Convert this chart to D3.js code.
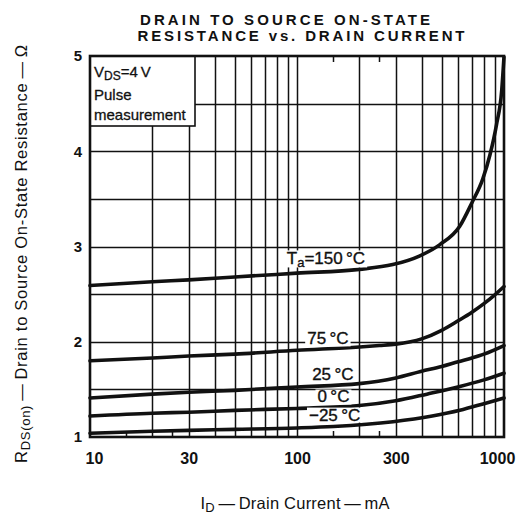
<!DOCTYPE html>
<html><head><meta charset="utf-8">
<script src="https://cdn.jsdelivr.net/npm/d3@7"></script>
<style>
body{margin:0;background:#fff}
svg{display:block}
text{font-family:"Liberation Sans",Arial,Helvetica,sans-serif;fill:#111}
</style>
</head><body>
<svg id="c" width="523" height="518"></svg>
<script>
// ---- data ----
const xTickValues = [10, 30, 100, 300, 1000];
const yTickValues = [1, 2, 3, 4, 5];
const xGridValues = [20, 30, 40, 50, 60, 70, 80, 90, 100, 200, 300, 400, 500, 600, 700, 800, 900];
const yGridValues = [1.5, 2, 2.5, 3, 3.5, 4, 4.5];
const xMinorTicks = [15, 25, 150, 250];

const seriesLabels = ["150", "75", "25", "0", "−25"];

const id150 = [10, 20, 30, 50, 100, 200, 290, 390, 490, 610, 700, 790, 855, 920, 975, 1000];
const r150  = [2.59, 2.63, 2.65, 2.68, 2.72, 2.76, 2.81, 2.90, 3.02, 3.21, 3.46, 3.71, 3.96, 4.28, 4.64, 4.99];

const id75 = [10, 20, 30, 50, 100, 200, 250, 300, 400, 500, 600, 700, 800, 900, 1000];
const r75  = [1.80, 1.83, 1.85, 1.87, 1.91, 1.945, 1.96, 1.975, 2.03, 2.12, 2.22, 2.31, 2.40, 2.49, 2.58];

const id25 = [10, 20, 30, 50, 100, 200, 300, 400, 500, 600, 700, 800, 1000];
const r25  = [1.41, 1.45, 1.47, 1.49, 1.525, 1.56, 1.62, 1.69, 1.74, 1.79, 1.83, 1.87, 1.96];

const id0 = [10, 20, 30, 50, 100, 200, 300, 424, 612, 800, 1000];
const r0  = [1.22, 1.25, 1.26, 1.28, 1.30, 1.33, 1.38, 1.45, 1.53, 1.60, 1.67];

const idm25 = [10, 20, 30, 50, 100, 150, 291, 450, 612, 800, 1000];
const rm25  = [1.04, 1.06, 1.07, 1.08, 1.095, 1.11, 1.16, 1.22, 1.28, 1.35, 1.41];

// ---- layout ----
const svg = d3.select("#c");
const L = 90, R = 504, T = 56, B = 437;
const x = d3.scaleLog().domain([10, 1000]).range([L, R]);
const y = d3.scaleLinear().domain([1, 5]).range([B, T]);
const snap = v => Math.round(v) + 0.5;

// gridlines
const grid = svg.append("g").attr("stroke", "#111").attr("stroke-width", 1.5);
grid.selectAll(".vx").data(xGridValues).join("line")
  .attr("x1", d => snap(x(d))).attr("x2", d => snap(x(d)))
  .attr("y1", y(1)).attr("y2", y(5));
grid.selectAll(".hy").data(yGridValues).join("line")
  .attr("x1", x(10)).attr("x2", x(1000))
  .attr("y1", d => snap(y(d))).attr("y2", d => snap(y(d)));

// minor ticks (top & bottom, inward)
const mt = svg.append("g").attr("stroke", "#111").attr("stroke-width", 1.5);
mt.selectAll(".b").data(xMinorTicks).join("line")
  .attr("x1", d => snap(x(d))).attr("x2", d => snap(x(d))).attr("y1", y(1)).attr("y2", y(1) - 6);
mt.selectAll(".t").data(xMinorTicks).join("line")
  .attr("x1", d => snap(x(d))).attr("x2", d => snap(x(d))).attr("y1", y(5)).attr("y2", y(5) + 6);

// curves
const series = [
  {id: id150, r: r150},
  {id: id75, r: r75},
  {id: id25, r: r25},
  {id: id0, r: r0},
  {id: idm25, r: rm25}
];
const line = d3.line().x(d => x(d[0])).y(d => y(d[1])).curve(d3.curveMonotoneX);
svg.append("g").selectAll("path").data(series).join("path")
  .attr("d", s => line(s.id.map((v, i) => [v, s.r[i]])))
  .attr("fill", "none").attr("stroke", "#111").attr("stroke-width", 3.6)
  .attr("stroke-linecap", "round");

// curve labels (anchor in data units)
const labelAnchors = [[138, 2.88], [141, 2.03], [149, 1.66], [150, 1.42], [152, 1.23]];
const lg = svg.append("g");
seriesLabels.forEach((lab, i) => {
  const g = lg.append("g");
  const t = g.append("text")
    .attr("x", x(labelAnchors[i][0])).attr("y", y(labelAnchors[i][1]))
    .attr("text-anchor", "middle").attr("dominant-baseline", "central")
    .attr("font-size", 17).attr("stroke", "#111").attr("stroke-width", 0.35);
  if (i === 0) {
    t.append("tspan").text("T");
    t.append("tspan").attr("font-size", 13).attr("dy", 4).text("a");
    t.append("tspan").attr("dy", -4).text("=" + lab + "\u2009°C");
  } else {
    t.text(lab + "\u2009°C");
  }
  const bb = t.node().getBBox();
  g.insert("rect", "text").attr("x", bb.x - 2).attr("y", bb.y + 2)
    .attr("width", bb.width + 4).attr("height", bb.height - 4).attr("fill", "#fff");
});

// legend box
const lgx = svg.append("g");
lgx.append("rect").attr("x", L).attr("y", T).attr("width", 105).attr("height", 70)
  .attr("fill", "#fff").attr("stroke", "#111").attr("stroke-width", 1.6);
const l1 = lgx.append("text").attr("x", L + 4).attr("y", 77).attr("font-size", 15)
  .attr("stroke", "#111").attr("stroke-width", 0.3);
l1.append("tspan").text("V");
l1.append("tspan").attr("font-size", 12).attr("dy", 3).text("DS");
l1.append("tspan").attr("dy", -3).text("=4\u2009V");
lgx.append("text").attr("x", L + 4).attr("y", 100).attr("font-size", 15)
  .attr("stroke", "#111").attr("stroke-width", 0.3).text("Pulse");
lgx.append("text").attr("x", L + 4).attr("y", 120).attr("font-size", 15)
  .attr("stroke", "#111").attr("stroke-width", 0.3).text("measurement");

// frame
svg.append("rect").attr("x", L).attr("y", T).attr("width", R - L).attr("height", B - T)
  .attr("fill", "none").attr("stroke", "#111").attr("stroke-width", 2.6);

// axes
const xAxis = d3.axisBottom(x).tickValues(xTickValues).tickFormat(d3.format("d")).tickSize(0).tickPadding(0);
const gx = svg.append("g").attr("transform", `translate(0,${B})`).call(xAxis);
gx.select(".domain").remove();
gx.selectAll("text").attr("font-size", 16).attr("font-weight", "bold").attr("dy", 0).attr("y", 27)
  .attr("font-family", null).style("fill", "#111")
  .attr("dx", d => d === 10 ? 4 : d === 1000 ? -7 : 0);

const yAxis = d3.axisLeft(y).tickValues(yTickValues).tickFormat(d3.format("d")).tickSize(0).tickPadding(0);
const gy = svg.append("g").attr("transform", `translate(${L - 8},0)`).call(yAxis);
gy.select(".domain").remove();
gy.selectAll("text").attr("font-size", 15).attr("font-weight", "bold").attr("font-family", null).style("fill", "#111");

// title
svg.append("text").attr("x", 285).attr("y", 25).attr("text-anchor", "middle")
  .attr("font-size", 15).attr("font-weight", "bold")
  .attr("textLength", 290).attr("lengthAdjust", "spacing").text("DRAIN TO SOURCE ON-STATE");
svg.append("text").attr("x", 301).attr("y", 41).attr("text-anchor", "middle")
  .attr("font-size", 15).attr("font-weight", "bold")
  .attr("textLength", 327).attr("lengthAdjust", "spacing").text("RESISTANCE vs. DRAIN CURRENT");

// x title
const xt = svg.append("text").attr("x", 295).attr("y", 509).attr("text-anchor", "middle")
  .attr("font-size", 16.5).attr("textLength", 189).attr("lengthAdjust", "spacing");
xt.append("tspan").text("I");
xt.append("tspan").attr("font-size", 13).attr("dy", 3).text("D");
xt.append("tspan").attr("dy", -3).text("\u2009—\u2009Drain Current\u2009—\u2009mA");

// y title
const yt = svg.append("text").attr("transform", "translate(27,254) rotate(-90)")
  .attr("text-anchor", "middle").attr("font-size", 16.5)
  .attr("textLength", 418).attr("lengthAdjust", "spacing");
yt.append("tspan").text("R");
yt.append("tspan").attr("font-size", 13).attr("dy", 3).text("DS(on)");
yt.append("tspan").attr("dy", -3).text("\u2009—\u2009Drain to Source On-State Resistance\u2009—\u2009Ω");
</script>
</body></html>
